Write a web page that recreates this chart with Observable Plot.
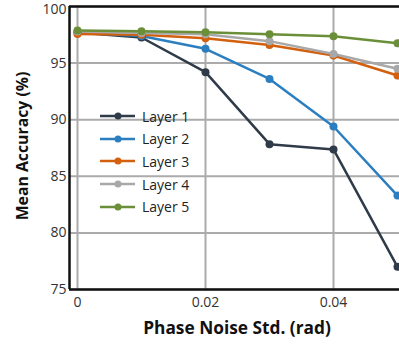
<!DOCTYPE html>
<html><head><meta charset="utf-8">
<script src="https://cdn.jsdelivr.net/npm/d3@7"></script>
<script src="https://cdn.jsdelivr.net/npm/@observablehq/plot@0.6"></script>
<style>
body{margin:0;background:#fff;font-family:"Open Sans",sans-serif;}
#wrap{position:relative;width:399px;height:350px;overflow:hidden;}
#legend{position:absolute;left:100px;top:105px;font:14px "Open Sans",sans-serif;color:#222;}
.row{display:flex;align-items:center;height:22.6px;}
.row svg{margin-right:6px;}
</style></head><body>
<div id="wrap"><div id="legend"></div></div>
<script>
const noise = [0, 0.01, 0.02, 0.03, 0.04, 0.05];
const series = ["Layer 1","Layer 2","Layer 3","Layer 4","Layer 5"];
const layer1 = [97.7, 97.26, 94.2, 87.84, 87.37, 77.0];
const layer2 = [97.7, 97.4, 96.26, 93.6, 89.4, 83.3];
const layer3 = [97.58, 97.5, 97.2, 96.6, 95.67, 93.9];
const layer4 = [97.8, 97.65, 97.55, 96.94, 95.8, 94.5];
const layer5 = [97.87, 97.82, 97.73, 97.55, 97.38, 96.76];
const colors = ["#2f3b48", "#2b7fc1", "#d2600f", "#a8a8a8", "#6a8f38"];
const xTicks = [0, 0.02, 0.04];
const yTicks = [75, 80, 85, 90, 95, 100];
const xDomain = [-0.00125, 0.0503125];
const yDomain = [75, 100];
const xTitle = "Phase Noise Std. (rad)";
const yTitle = "Mean Accuracy (%)";

const all = [layer1, layer2, layer3, layer4, layer5];
const data = [];
series.forEach((s, i) => noise.forEach((x, j) => data.push({series: s, x, y: all[i][j]})));

const chart = Plot.plot({
  width: 399, height: 350,
  marginLeft: 69, marginRight: 0, marginTop: 6, marginBottom: 61,
  style: {fontFamily: "Open Sans", fontSize: "14px", color: "#333", background: "white"},
  x: {domain: xDomain, ticks: xTicks, tickFormat: d => d === 0 ? "0" : String(d), tickSize: 0, tickPadding: 8, label: null},
  y: {domain: yDomain, ticks: yTicks, tickSize: 0, tickPadding: 3, label: null},
  color: {domain: series, range: colors},
  marks: [
    Plot.gridX(xTicks, {stroke: "#ababab", strokeOpacity: 1, strokeWidth: 2}),
    Plot.gridY(yTicks, {stroke: "#ababab", strokeOpacity: 1, strokeWidth: 2}),
    Plot.line(data, {x: "x", y: "y", z: "series", stroke: "series", strokeWidth: 2.5}),
    Plot.dot(data, {x: "x", y: "y", fill: "series", r: 4}),
    Plot.ruleX([xDomain[0]], {stroke: "#111", strokeWidth: 2.5}),
    Plot.ruleY([yDomain[0]], {stroke: "#111", strokeWidth: 2.5}),
    Plot.ruleY([yDomain[1]], {stroke: "#111", strokeWidth: 2.5})
  ]
});
// axis titles
const svgNS = "http://www.w3.org/2000/svg";
function addTitle(txt, size, transform) {
  const t = document.createElementNS(svgNS, "text");
  t.textContent = txt;
  t.setAttribute("font-size", size);
  t.setAttribute("font-weight", "bold");
  t.setAttribute("text-anchor", "middle");
  t.setAttribute("fill", "#111");
  t.setAttribute("transform", transform);
  chart.appendChild(t);
}
addTitle(xTitle, "17.3px", "translate(237,334)");
addTitle(yTitle, "15.8px", "translate(28,146) rotate(-90)");
// keep the top tick label inside the picture, as in the reference
chart.querySelectorAll("g[aria-label='y-axis tick label'] text").forEach(t => {
  if (t.textContent === String(yDomain[1])) {
    const tr = t.getAttribute("transform") || "";
    t.setAttribute("transform", tr + " translate(0,3)");
  }
});
document.getElementById("wrap").prepend(chart);

const leg = document.getElementById("legend");
series.forEach((s, i) => {
  const row = document.createElement("div"); row.className = "row";
  row.innerHTML = `<svg width="36" height="10"><line x1="0" y1="5" x2="35" y2="5" stroke="${colors[i]}" stroke-width="2.5"/><circle cx="18" cy="5" r="3.5" fill="${colors[i]}"/></svg><span>${s}</span>`;
  leg.appendChild(row);
});
</script>
</body></html>
